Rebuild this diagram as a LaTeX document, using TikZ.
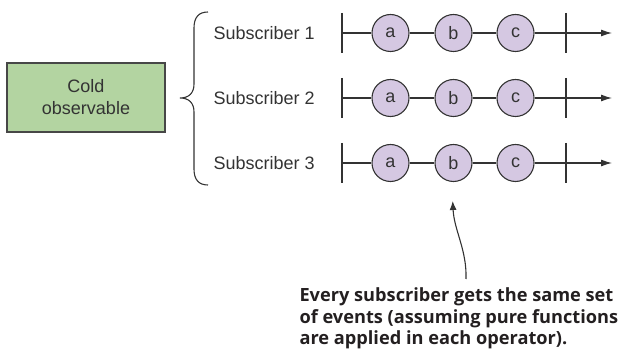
\documentclass[tikz,border=0pt]{standalone}
\usepackage{fontspec}
\setmainfont{Liberation Sans}
\newfontfamily\notefont{Open Sans}
\usetikzlibrary{arrows.meta}

\definecolor{boxgreen}{HTML}{B3D4A1}
\definecolor{eventpurple}{HTML}{D5C8E2}
\definecolor{inkgray}{HTML}{333333}
\definecolor{notegray}{HTML}{231F20}

\begin{document}
\begin{tikzpicture}[x=1pt, y=-1pt, line width=1.1pt, color=inkgray,
    coldbox/.style={draw=inkgray!90, fill=boxgreen, minimum width=158pt, minimum height=69pt,
        align=center, font=\fontsize{18}{22}\selectfont},
    sublabel/.style={anchor=west, inner sep=0pt, font=\fontsize{18}{22}\selectfont},
    event/.style={circle, draw=inkgray, fill=eventpurple, minimum size=37pt, inner sep=0pt,
        font=\fontsize{18}{22}\selectfont},
    notetext/.style={anchor=base west, align=left, inner sep=0pt, text=notegray,
        font=\notefont\bfseries\fontsize{18.2}{21.7}\selectfont}]
    \useasboundingbox (0,0) rectangle (627,358);

    % Source
    \node[coldbox] (cold) at (86,97.5) {Cold\\observable};

    % Brace
    \draw (208,12) .. controls (199,12) and (194,17) .. (194,28) -- (194,84)
        .. controls (194,93) and (189,98) .. (180,98)
        .. controls (189,98) and (194,103) .. (194,112) -- (194,169)
        .. controls (194,180) and (199,185) .. (208,185);

    % Timelines
    \foreach \row/\ypos in {1/33, 2/98, 3/163} {
        \node[sublabel] (sub\row) at (213,\ypos) {Subscriber \row};
        \coordinate (start\row) at (342,\ypos);
        \coordinate (stop\row) at (566,\ypos);
        \coordinate (end\row) at (612,\ypos);
        \node[event] (a\row) at (390.5,\ypos) {a};
        \node[event] (b\row) at (453.5,\ypos) {b};
        \node[event] (c\row) at (515.5,\ypos) {c};
        \draw ([yshift=20pt]start\row) -- ([yshift=-20pt]start\row); % tick
        \draw ([yshift=20pt]stop\row) -- ([yshift=-20pt]stop\row); % tick
        \draw (start\row) -- (a\row) -- (b\row) -- (c\row);
        \draw[-{Latex[length=11pt,width=7pt]}] (c\row) -- (end\row);
    }

    % Note (base is the last line)
    \node[notetext] (note) at (299,344.9) {Every subscriber gets the same set\\
        of events (assuming pure functions\\
        are applied in each operator).};
    \coordinate (notetail) at (466,279);
    \draw[-{Latex[length=9pt,width=7pt]}] (notetail) .. controls (467,250) and (454,230) .. (452.7,201);
\end{tikzpicture}
\end{document}
